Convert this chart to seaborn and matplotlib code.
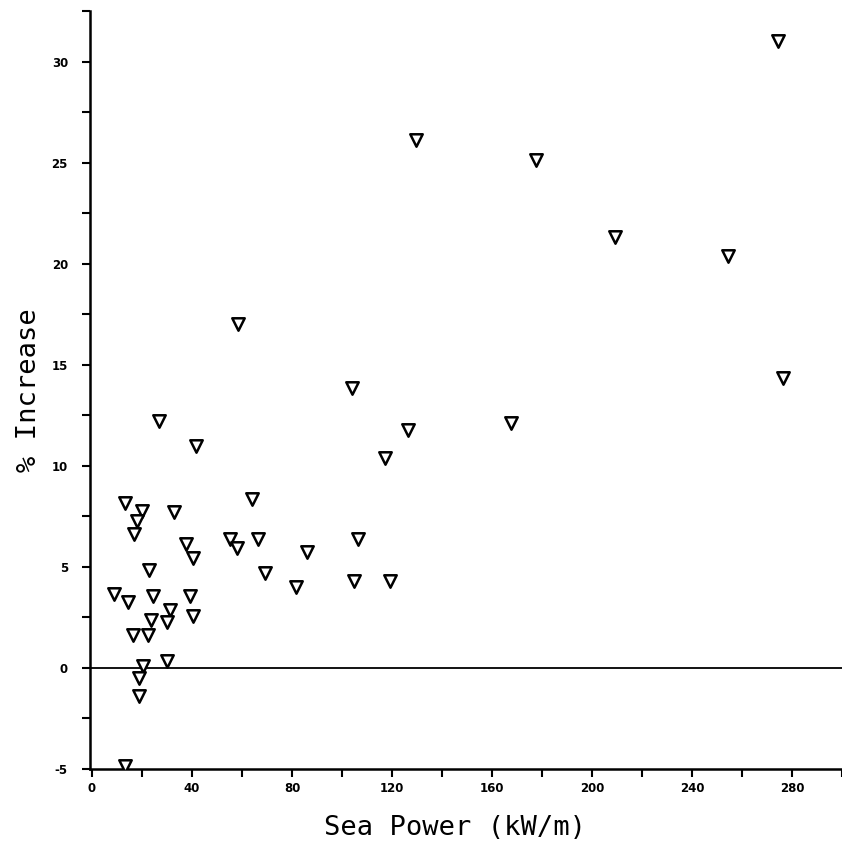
import matplotlib
matplotlib.use("Agg")
import matplotlib.pyplot as plt
import seaborn as sns
import pandas as pd
from matplotlib.ticker import MultipleLocator, FixedLocator

# ---- data ----
sea_power = [26.9, 41.5, 13.0, 20.1, 32.7, 18.1, 16.9, 63.8, 37.7, 55.1,
             57.9, 66.4, 40.5, 22.9, 69.0, 8.9, 14.5, 24.5, 39.1, 31.0,
             23.6, 29.8, 40.2, 16.2, 22.5, 29.8, 20.2, 18.8, 18.6, 13.0,
             104.0, 167.6, 126.3, 117.0, 106.2, 86.0, 81.7, 104.8, 119.0,
             274.2, 177.6, 209.1, 254.3, 276.4, 129.7, 58.4]
pct_increase = [12.2, 11.0, 8.14, 7.75, 7.71, 7.25, 6.64, 8.34, 6.12, 6.40,
                5.95, 6.36, 5.43, 4.83, 4.69, 3.65, 3.27, 3.55, 3.55, 2.89,
                2.38, 2.25, 2.57, 1.64, 1.64, 0.36, 0.11, -0.51, -1.37, -4.85,
                13.85, 12.12, 11.79, 10.39, 6.36, 5.76, 3.98, 4.31, 4.31,
                31.0, 25.11, 21.33, 20.37, 14.34, 26.10, 17.02]
x_ticks = [0, 40, 80, 120, 160, 200, 240, 280]
x_tick_labels = ["0", "40", "80", "120", "160", "200", "240", "280"]
y_ticks = [-5, 0, 5, 10, 15, 20, 25, 30]
y_tick_labels = ["-5", "0", "5", "10", "15", "20", "25", "30"]
x_label = "Sea Power (kW/m)"
y_label = "% Increase"

df = pd.DataFrame({"sea_power": sea_power, "pct_increase": pct_increase})

sns.set_theme(style="ticks")
plt.rcParams["font.family"] = ["DejaVu Sans"]

W, H = 842, 859
fig = plt.figure(figsize=(W / 100, H / 100), dpi=100)
left_px, right_px, top_px, bottom_px = 89.5, 842, 11, 769
ax = fig.add_axes([left_px / W, (H - bottom_px) / H,
                   (right_px - left_px) / W, (bottom_px - top_px) / H])

ax.axhline(0, color="black", lw=1.3, zorder=2)

sns.scatterplot(data=df, x="sea_power", y="pct_increase", ax=ax,
                marker="v", s=80, color="white", edgecolor="black",
                linewidth=1.8, zorder=3, legend=False)

ax.set_xlim(-1, 300)
ax.set_ylim(-5, 32.5)

ax.xaxis.set_major_locator(FixedLocator(x_ticks))
ax.set_xticklabels(x_tick_labels)
ax.xaxis.set_minor_locator(MultipleLocator(20))
ax.yaxis.set_major_locator(FixedLocator(y_ticks))
ax.set_yticklabels(y_tick_labels)
ax.yaxis.set_minor_locator(MultipleLocator(2.5))

sns.despine(ax=ax)
for s in ("left", "bottom"):
    ax.spines[s].set_linewidth(1.8)
    ax.spines[s].set_color("black")

ax.tick_params(axis="both", which="both", direction="out", length=5.5,
               width=1.5, color="black")
ax.tick_params(axis="y", which="major", pad=10, labelsize=8.5)
ax.tick_params(axis="x", which="major", pad=4, labelsize=8.5)
for lbl in ax.get_xticklabels() + ax.get_yticklabels():
    lbl.set_fontweight("bold")
    lbl.set_color("black")

ax.set_xlabel(x_label, fontsize=19.5, family="DejaVu Sans Mono", color="black")
ax.set_ylabel(y_label, fontsize=19.5, family="DejaVu Sans Mono", color="black")
ax.xaxis.set_label_coords((455 - left_px) / (right_px - left_px),
                          (bottom_px - 815) / (bottom_px - top_px))
ax.yaxis.set_label_coords((42 - left_px) / (right_px - left_px), 0.5)

ax.set_facecolor("white")
fig.patch.set_facecolor("white")
fig.savefig("out.png", dpi=100)
